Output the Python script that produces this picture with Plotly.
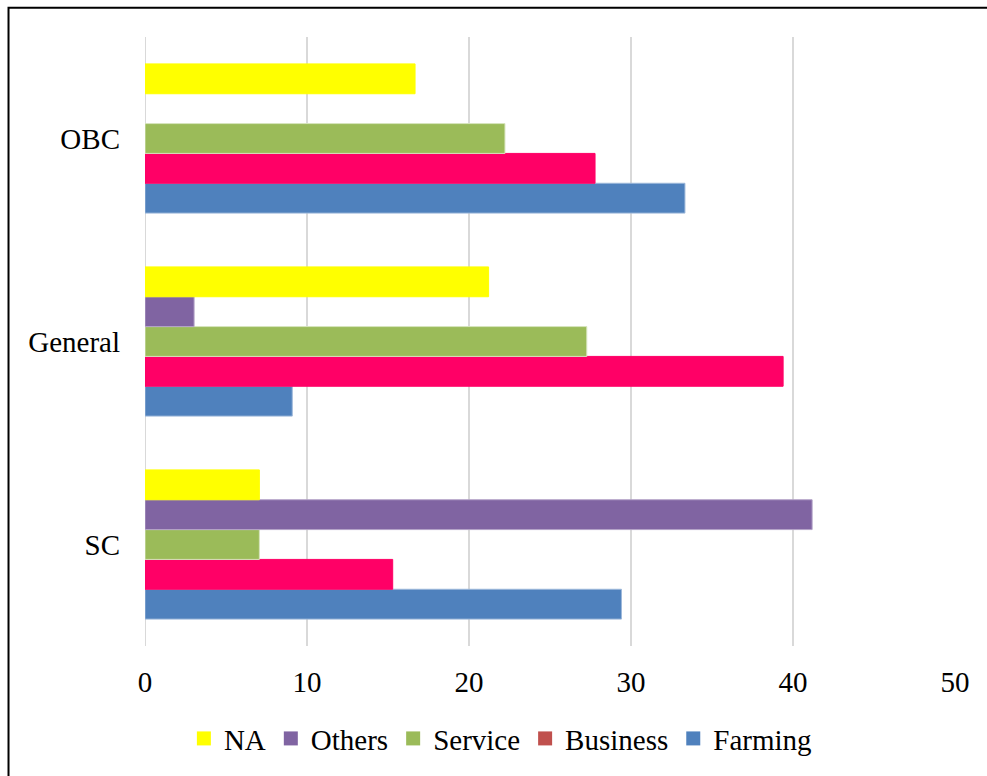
import plotly.graph_objects as go

# Caste groups (bottom to top on the category axis)
categories = ["SC", "General", "OBC"]

# Occupation shares (%) per group, listed in the same order as categories
farming = [29.41, 9.09, 33.33]
business = [15.29, 39.39, 27.78]
service = [7.06, 27.27, 22.22]
others = [41.18, 3.03, None]
na = [7.06, 21.21, 16.67]

x_ticks = [0, 10, 20, 30, 40, 50]

FONT = "Liberation Serif, Times New Roman, serif"
SIZE = 29

# (name, values, bar colour, bar edge colour, legend swatch colour); bottom bar first
series = [
    ("Farming", farming, "#4F81BD", "#9DB8DA", "#4F81BD"),
    ("Business", business, "#FF0066", "#FF0066", "#C0504D"),
    ("Service", service, "#9BBB59", "#D7E4BD", "#9BBB59"),
    ("Others", others, "#8064A2", "#B3A2C7", "#8064A2"),
    ("NA", na, "#FFFF00", "#FFFF00", "#FFFF00"),
]

fig = go.Figure()

for name, vals, col, edge, swatch in series:
    fig.add_trace(go.Bar(name=name, y=categories, x=vals, orientation="h",
                         showlegend=False,
                         marker=dict(color=col, line=dict(color=edge, width=1))))
    # Square legend swatch for the series
    fig.add_trace(go.Scatter(name=name, x=[None], y=[None], mode="markers",
                             marker=dict(symbol="square", size=14, color=swatch,
                                         line=dict(width=0))))

fig.update_layout(
    width=987, height=776,
    margin=dict(l=145, r=32, t=37, b=127),
    paper_bgcolor="white", plot_bgcolor="white",
    barmode="group", bargap=0.265, bargroupgap=0,
    font=dict(family=FONT, size=SIZE, color="black"),
    legend=dict(orientation="h", traceorder="reversed",
                x=0.048, xanchor="left", y=-0.152, yanchor="middle",
                font=dict(family=FONT, size=SIZE, color="black"),
                itemclick=False, bgcolor="rgba(0,0,0,0)"),
    xaxis=dict(range=[0, 50], tickvals=x_ticks, showgrid=True,
               gridcolor="#D9D9D9", gridwidth=2, zeroline=False,
               showline=False, ticks="", ticklabelstandoff=16,
               tickfont=dict(family=FONT, size=SIZE, color="black")),
    yaxis=dict(categoryorder="array", categoryarray=categories,
               showgrid=False, zeroline=False, showline=False, ticks="",
               ticklabelstandoff=24,
               tickfont=dict(family=FONT, size=SIZE, color="black")),
    showlegend=True,
)

# Zero-value gridline drawn along the left edge of the plot
fig.add_shape(type="line", xref="x", yref="paper", x0=0, x1=0, y0=0, y1=1,
              line=dict(color="#D9D9D9", width=2), layer="below")

# Outer frame around the chart
fig.add_shape(type="rect", xref="paper", yref="paper",
              x0=-0.1685, x1=1.06, y0=-0.23, y1=1.048,
              line=dict(color="black", width=2), fillcolor="rgba(0,0,0,0)")

fig.write_html("out.html")
